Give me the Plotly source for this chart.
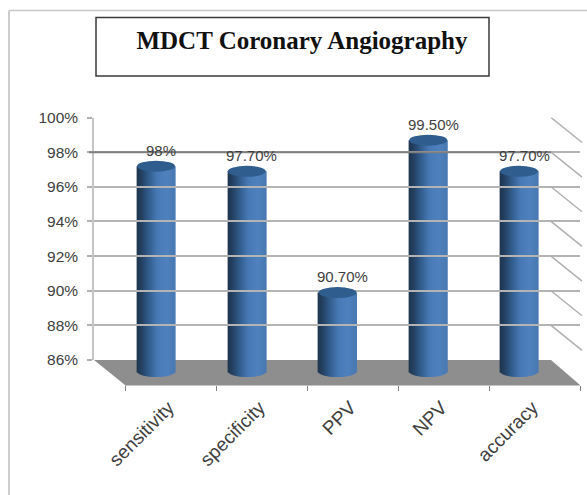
import math
import plotly.graph_objects as go

# Chart data
categories = ["sensitivity", "specificity", "PPV", "NPV", "accuracy"]
values = [98, 97.7, 90.7, 99.5, 97.7]
value_labels = ["98%", "97.70%", "90.70%", "99.50%", "97.70%"]
tick_values = [86, 88, 90, 92, 94, 96, 98, 100]
tick_labels = ["86%", "88%", "90%", "92%", "94%", "96%", "98%", "100%"]

W, H = 587, 495
AXIS_MIN, AXIS_MAX = 86, 100
PX_PER_UNIT = (360 - 117.5) / (AXIS_MAX - AXIS_MIN)


def fx(px):
    return px / W


def fy(py):
    return 1 - py / H


# Shaded cylinder colour across its width (position 0..1)
stops = [(0.0, (30, 52, 78)), (0.12, (36, 64, 96)), (0.3, (48, 90, 136)),
         (0.55, (72, 122, 182)), (0.8, (79, 129, 189)), (1.0, (74, 122, 178))]


def shade(t):
    for (a, ca), (b, cb) in zip(stops, stops[1:]):
        if t <= b:
            k = (t - a) / (b - a)
            return "rgb(%d,%d,%d)" % tuple(round(p + (q - p) * k) for p, q in zip(ca, cb))
    return "rgb(%d,%d,%d)" % stops[-1][1]


BAR_PX = 38
SPACING_PX = 90.75
CURVE = 0.17  # curvature of the cylinder foot, in axis units

fig = go.Figure()

# Invisible carriers so the wall and front axes are laid out
fig.add_trace(go.Scatter(x=categories, y=values, xaxis="x", yaxis="y", mode="markers",
                         marker=dict(opacity=0), hoverinfo="skip", showlegend=False))
fig.add_trace(go.Scatter(x=categories, y=values, xaxis="x3", yaxis="y", mode="markers",
                         marker=dict(opacity=0), hoverinfo="skip", showlegend=False))

# Each cylinder is a run of narrow shaded strips
for s in range(BAR_PX):
    t = (s + 0.5) / BAR_PX
    u = 2 * t - 1
    foot = AXIS_MIN + CURVE - 2 * CURVE * math.sqrt(max(0, 1 - u * u))
    fig.add_trace(go.Bar(
        x=categories,
        y=[v - foot for v in values],
        base=[foot] * len(values),
        width=1.5 / SPACING_PX,
        offset=(s - BAR_PX / 2) / SPACING_PX,
        xaxis="x2", yaxis="y2",
        marker=dict(color=shade(t), line=dict(width=0)),
        hoverinfo="skip", showlegend=False,
    ))

shapes = []

# Outer chart frame
shapes.append(dict(type="line", xref="paper", yref="paper", x0=fx(9), x1=fx(9), y0=fy(10.5), y1=fy(495),
                   line=dict(color="#bdbdbd", width=1.5)))
shapes.append(dict(type="line", xref="paper", yref="paper", x0=fx(9), x1=fx(587), y0=fy(10.5), y1=fy(10.5),
                   line=dict(color="#c8c8c8", width=1.5)))

# Title box
shapes.append(dict(type="rect", xref="paper", yref="paper", x0=fx(96), x1=fx(489), y0=fy(76), y1=fy(17.5),
                   line=dict(color="#3a3a3a", width=1.5), fillcolor="white"))

# Floor of the plot
shapes.append(dict(type="path", xref="paper", yref="paper", layer="below",
                   path=f"M{fx(94)},{fy(360)} L{fx(551)},{fy(360)} L{fx(580)},{fy(385)} L{fx(125)},{fy(385)} Z",
                   fillcolor="#8e8e8e", line=dict(width=0)))

# Receding grid lines on the side wall
for v in tick_values[1:]:
    shapes.append(dict(type="line", xref="paper", yref="y", xsizemode="pixel", ysizemode="pixel",
                       xanchor=fx(551), yanchor=v, x0=0, x1=31, y0=0, y1=-25,
                       line=dict(color="#b0b0b0", width=1.5)))

# Heavier grid line at 98%
shapes.append(dict(type="line", xref="paper", yref="y", x0=fx(89), x1=fx(551), y0=98, y1=98,
                   line=dict(color="#7f7f7f", width=2)))

# Elliptical cap on each cylinder
for c, v in zip(categories, values):
    shapes.append(dict(type="circle", xref="x2", yref="y2", xsizemode="pixel", ysizemode="pixel",
                       xanchor=c, yanchor=v, x0=-19, x1=19, y0=-5.5, y1=5.5,
                       fillcolor="#2f5d8e", line=dict(width=0)))

annotations = [
    dict(x=c, y=v, xref="x2", yref="y2", text=t, showarrow=False, xshift=5, yshift=16,
         font=dict(family="Liberation Sans", size=15, color="#404040"))
    for c, v, t in zip(categories, values, value_labels)
]

# Bars sit at mid depth: axes shifted from the back wall by half of the floor depth
BAR_SHIFT_Y = 14
bar_bottom = 360 + BAR_SHIFT_Y + PX_PER_UNIT
bar_top = 117.5 + BAR_SHIFT_Y - PX_PER_UNIT

fig.update_layout(
    width=W, height=H, autosize=False,
    margin=dict(l=0, r=0, t=0, b=0),
    paper_bgcolor="white", plot_bgcolor="rgba(0,0,0,0)",
    showlegend=False,
    barmode="overlay",
    title=dict(text="<b>MDCT Coronary Angiography</b>", x=fx(302), y=fy(40), xanchor="center", yanchor="middle",
               font=dict(family="Liberation Serif", size=25, color="#111111")),
    xaxis=dict(domain=[fx(94), fx(551)], type="category", categoryorder="array", categoryarray=categories,
               range=[-0.5, 4.5], visible=False, anchor="y", automargin=False),
    yaxis=dict(domain=[fy(360), fy(117.5)], range=[AXIS_MIN, AXIS_MAX], anchor="x", automargin=False,
               tickmode="array", tickvals=tick_values, ticktext=tick_labels,
               showgrid=True, gridcolor="#b4b4b4", gridwidth=1.5, zeroline=False,
               showline=True, linecolor="#c4c4c4", linewidth=1.5,
               ticks="outside", ticklen=5, tickcolor="#b0b0b0", tickwidth=1.5,
               ticklabelstandoff=6,
               tickfont=dict(family="Liberation Sans", size=15.5, color="#404040")),
    xaxis2=dict(domain=[fx(156 - SPACING_PX / 2), fx(156 + 4.5 * SPACING_PX)], type="category",
                categoryorder="array", categoryarray=categories,
                range=[-0.5, 4.5], visible=False, anchor="y2", automargin=False),
    yaxis2=dict(domain=[fy(bar_bottom), fy(bar_top)], range=[AXIS_MIN - 1, AXIS_MAX + 1],
                visible=False, anchor="x2", automargin=False),
    xaxis3=dict(domain=[fx(125), fx(580)], type="category", categoryorder="array", categoryarray=categories,
                range=[-0.5, 4.5], anchor="free", position=fy(385), side="bottom", automargin=False,
                showgrid=False, zeroline=False, showline=True, linecolor="#c4c4c4", linewidth=1,
                ticks="outside", ticklen=5, tickcolor="#808080", tickwidth=1, tickson="boundaries",
                tickangle=-45, ticklabelstandoff=3, ticklabelshift=-2,
                tickfont=dict(family="Liberation Sans", size=19, color="#404040")),
    shapes=shapes,
    annotations=annotations,
)

fig.write_html("out.html")
